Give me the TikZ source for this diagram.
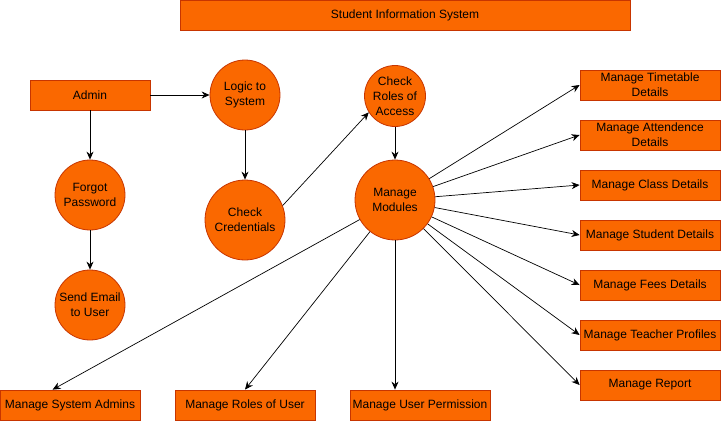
\documentclass[tikz,border=0pt]{standalone}
\usepackage{fontspec}
\setmainfont{Liberation Sans}
\usetikzlibrary{arrows.meta}
\definecolor{sisfill}{HTML}{FA6800}
\definecolor{sisline}{HTML}{C73500}

\begin{document}
\begin{tikzpicture}[x=1pt,y=-1pt]

            \tikzset{
              proc/.style={circle, draw=sisline, fill=sisfill, line width=0.8pt,
                inner sep=0pt, align=center, font=\fontsize{12}{15}\selectfont},
              ent/.style={rectangle, draw=sisline, fill=sisfill, line width=0.8pt,
                minimum width=140pt, minimum height=30pt, inner sep=0pt,
                align=center, font=\fontsize{12}{15}\selectfont},
              flow/.style={-{Stealth[length=8pt,width=7pt]}, line width=0.7pt}
            }

            \useasboundingbox (0,0) rectangle (722,421);

            % title
            \node [ent, minimum width=450pt] (title) at (405,15) {Student Information System};

            % login side
            \node [ent, minimum width=120pt] (admin) at (90,95) {Admin};
            \node [proc, minimum size=70pt] (logic) at (245,95) {Logic to\\System};
            \node [proc, minimum size=80pt] (cred) at (245,220) {Check\\Credentials};
            \node [proc, minimum size=70pt] (forgot) at (90,195) {Forgot\\Password};
            \node [proc, minimum size=70pt] (email) at (90,305) {Send Email\\to User};

            % access and modules
            \node [proc, minimum size=61pt] (roles) at (395,96) {Check\\Roles of\\Access};
            \node [proc, minimum size=80pt] (mods) at (395,200) {Manage\\Modules};

            % right column
            \node [ent] (tt) at (650,85) {Manage Timetable\\Details};
            \node [ent] (att) at (650,135) {Manage Attendence\\Details};
            \node [ent] (cls) at (650,185) {Manage Class Details};
            \node [ent] (stu) at (650,235) {Manage Student Details};
            \node [ent] (fees) at (650,285) {Manage Fees Details};
            \node [ent] (tch) at (650,335) {Manage Teacher Profiles};
            \node [ent] (rep) at (650,385) {Manage Report};

            % bottom row
            \node [ent] (sysadm) at (70,405) {Manage System Admins};
            \node [ent] (usrrole) at (245,405) {Manage Roles of User};
            \node [ent] (perm) at (420,405) {Manage User Permission};

            \draw [flow] (admin) -- (logic);
            \draw [flow] (admin) -- (forgot);
            \draw [flow] (forgot) -- (email);
            \draw [flow] (logic) -- (cred);
            \draw [flow] (cred.21) -- (roles.212);
            \draw [flow] (roles) -- (mods);

            \draw [flow] (mods) -- (tt.west);
            \draw [flow] (mods) -- (att.west);
            \draw [flow] (mods) -- (cls.west);
            \draw [flow] (mods) -- (stu.west);
            \draw [flow] (mods) -- (fees.west);
            \draw [flow] (mods) -- (tch.west);
            \draw [flow] (mods) -- (rep.west);

            \draw [flow] (mods) -- ([xshift=53pt]sysadm.north west);
            \draw [flow] (mods) -- (usrrole.north);
            \draw [flow] (mods) -- (mods |- perm.north);

\end{tikzpicture}
\end{document}
